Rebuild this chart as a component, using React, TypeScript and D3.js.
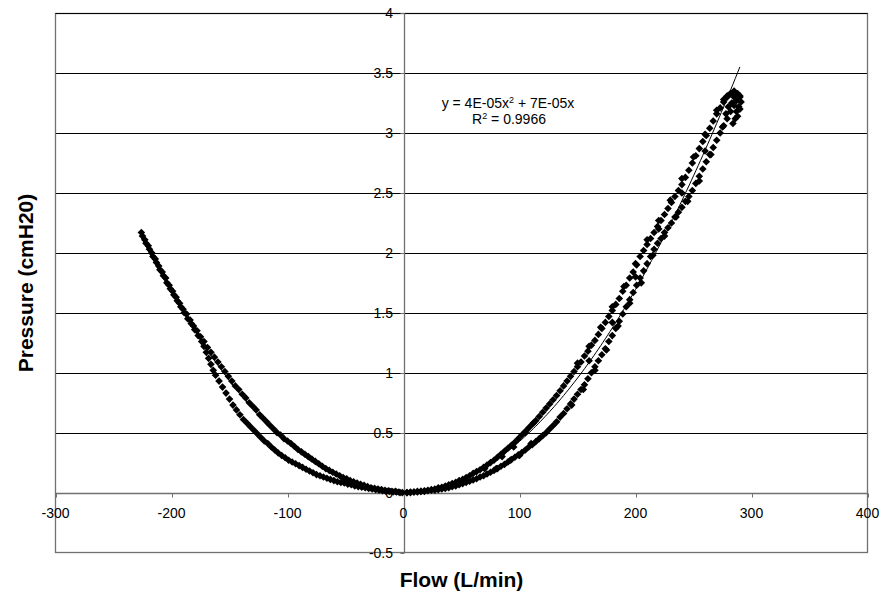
import { useRef, useEffect } from 'react';
import * as d3 from 'd3';

// axis ticks
const xTicks = [-300, -200, -100, 0, 100, 200, 300, 400];
const yTicks = [-0.5, 0, 0.5, 1, 1.5, 2, 2.5, 3, 3.5, 4];

// trendline shown on the chart (poly order 2)
const trendA = 4.2e-5;
const trendB = 7e-5;
const trendRange = [-226, 290];
const eqText = ['y = 4E-05x', ' + 7E-05x'];
const r2Text = ' = 0.9966';

// negative flow, outer branch [flow, pressure]
const leftOuter = [
    [-226, 2.17], [-223, 2.11], [-220, 2.06], [-217, 2.0], [-214, 1.95], [-211, 1.89], [-208, 1.84],
    [-205, 1.79], [-202, 1.73], [-199, 1.68], [-196, 1.63], [-193, 1.58], [-190, 1.53], [-187, 1.49],
    [-184, 1.44], [-181, 1.39], [-178, 1.35], [-175, 1.3], [-172, 1.26], [-169, 1.21], [-166, 1.17],
    [-163, 1.13], [-160, 1.09], [-157, 1.05], [-154, 1.01], [-151, 0.97], [-148, 0.93], [-145, 0.89],
    [-142, 0.86], [-139, 0.82], [-136, 0.79], [-133, 0.75], [-130, 0.72], [-127, 0.69], [-124, 0.65],
    [-121, 0.62], [-118, 0.59], [-115, 0.56], [-112, 0.53], [-109, 0.5], [-106, 0.48], [-103, 0.45],
    [-100, 0.43], [-97, 0.41], [-94, 0.385], [-91, 0.36], [-88, 0.34], [-85, 0.32], [-82, 0.3],
    [-79, 0.28], [-76, 0.26], [-73, 0.24], [-70, 0.22], [-67, 0.2], [-64, 0.185], [-61, 0.17],
    [-58, 0.155], [-55, 0.14], [-52, 0.125], [-49, 0.115], [-46, 0.1], [-43, 0.09], [-40, 0.08],
    [-37, 0.07], [-34, 0.06], [-31, 0.05], [-28, 0.04], [-25, 0.035], [-22, 0.03], [-19, 0.025],
    [-16, 0.02], [-13, 0.015], [-10, 0.01], [-7, 0.01], [-4, 0.005], [-1, 0.0]
];

// negative flow, inner branch
const leftInner = [
    [-225, 2.14], [-222, 2.08], [-219, 2.03], [-216, 1.97], [-213, 1.92], [-210, 1.86], [-207, 1.81],
    [-204, 1.75], [-201, 1.7], [-198, 1.65], [-195, 1.6], [-192, 1.55], [-189, 1.5], [-186, 1.45],
    [-183, 1.41], [-180, 1.36], [-177, 1.31], [-174, 1.26], [-172, 1.22], [-170, 1.17], [-168, 1.12],
    [-166, 1.07], [-164, 1.02], [-162, 0.98], [-159, 0.93], [-156, 0.88], [-153, 0.83], [-150, 0.78],
    [-147, 0.73], [-144, 0.69], [-141, 0.65], [-138, 0.61], [-135, 0.58], [-132, 0.55], [-129, 0.52],
    [-126, 0.49], [-123, 0.46], [-120, 0.43], [-117, 0.41], [-114, 0.38], [-111, 0.355], [-108, 0.33],
    [-105, 0.31], [-102, 0.29], [-99, 0.27], [-96, 0.255], [-93, 0.24], [-90, 0.225], [-87, 0.21],
    [-84, 0.195], [-81, 0.18], [-78, 0.165], [-75, 0.15], [-72, 0.14], [-69, 0.13], [-66, 0.12],
    [-63, 0.11], [-60, 0.1], [-57, 0.09], [-54, 0.085], [-51, 0.08], [-48, 0.07], [-45, 0.065],
    [-42, 0.055], [-39, 0.05], [-36, 0.045], [-33, 0.04], [-30, 0.035], [-27, 0.03], [-24, 0.025],
    [-21, 0.02], [-18, 0.015], [-15, 0.01], [-12, 0.01], [-9, 0.005], [-6, 0.005], [-3, 0.0]
];

// positive flow, upper branch
const rightUpper = [
    [3, 0.0], [6, 0.005], [9, 0.005], [12, 0.01], [15, 0.01], [18, 0.015], [21, 0.02], [24, 0.025],
    [27, 0.03], [30, 0.04], [33, 0.045], [36, 0.055], [39, 0.065], [42, 0.075], [45, 0.085], [48, 0.1],
    [51, 0.11], [54, 0.125], [57, 0.14], [60, 0.16], [63, 0.175], [66, 0.19], [69, 0.21], [72, 0.23],
    [75, 0.25], [78, 0.27], [81, 0.295], [84, 0.32], [87, 0.345], [90, 0.37], [93, 0.395], [96, 0.42],
    [99, 0.45], [102, 0.48], [105, 0.51], [108, 0.54], [111, 0.57], [114, 0.6], [117, 0.635], [120, 0.67],
    [123, 0.705], [126, 0.74], [129, 0.775], [132, 0.81], [135, 0.85], [138, 0.89], [141, 0.93], [144, 0.97],
    [147, 1.01], [150, 1.05], [153, 1.09], [156, 1.14], [159, 1.18], [162, 1.23], [165, 1.27], [168, 1.32],
    [171, 1.37], [174, 1.42], [177, 1.47], [180, 1.52], [183, 1.57], [186, 1.62], [189, 1.68], [192, 1.73],
    [195, 1.79], [198, 1.84], [201, 1.9], [204, 1.97], [207, 2.02], [210, 2.07], [213, 2.12], [216, 2.17],
    [219, 2.22], [222, 2.27], [225, 2.32], [228, 2.37], [231, 2.42], [234, 2.47], [237, 2.52], [240, 2.57],
    [243, 2.63], [246, 2.69], [249, 2.75], [252, 2.81], [255, 2.87], [258, 2.93], [261, 2.98], [264, 3.04],
    [267, 3.1], [270, 3.16], [273, 3.21], [276, 3.26], [279, 3.3], [282, 3.33], [285, 3.35]
];

// positive flow, lower branch
const rightLower = [
    [3, 0.0], [6, 0.0], [9, 0.005], [12, 0.005], [15, 0.01], [18, 0.01], [21, 0.015], [24, 0.02],
    [27, 0.02], [30, 0.025], [33, 0.03], [36, 0.035], [39, 0.04], [42, 0.05], [45, 0.055], [48, 0.065],
    [51, 0.075], [54, 0.085], [57, 0.095], [60, 0.105], [63, 0.115], [66, 0.13], [69, 0.14], [72, 0.155],
    [75, 0.17], [78, 0.185], [81, 0.2], [84, 0.22], [87, 0.235], [90, 0.255], [93, 0.275], [96, 0.295],
    [99, 0.315], [102, 0.335], [105, 0.355], [108, 0.38], [111, 0.4], [114, 0.425], [117, 0.45], [120, 0.475],
    [123, 0.5], [126, 0.53], [129, 0.56], [132, 0.59], [135, 0.63], [138, 0.66], [141, 0.7], [144, 0.74],
    [147, 0.78], [150, 0.82], [153, 0.86], [156, 0.9], [159, 0.95], [162, 1.0], [165, 1.05], [168, 1.1],
    [171, 1.15], [174, 1.2], [177, 1.26], [180, 1.31], [183, 1.37], [186, 1.43], [189, 1.49], [192, 1.55],
    [195, 1.61], [198, 1.67], [201, 1.73], [204, 1.79], [207, 1.85], [210, 1.91], [213, 1.97], [216, 2.03],
    [219, 2.08], [222, 2.12], [225, 2.17], [228, 2.21], [231, 2.25], [234, 2.3], [237, 2.34], [240, 2.38],
    [243, 2.43], [246, 2.47], [249, 2.52], [252, 2.58], [255, 2.64], [258, 2.7], [261, 2.76], [264, 2.82],
    [267, 2.88], [270, 2.94], [273, 3.0], [276, 3.06], [279, 3.12], [282, 3.18], [285, 3.23], [288, 3.28],
    [290, 3.31]
];

// loose points hugging the positive branches
const rightScatter = [
    [70, 0.2], [85, 0.3], [95, 0.38], [105, 0.5], [112, 0.58], [80, 0.2], [92, 0.27], [100, 0.31],
    [110, 0.41], [150, 1.08], [160, 1.22], [170, 1.38], [180, 1.55], [190, 1.72], [200, 1.91], [210, 2.11],
    [220, 2.27], [230, 2.44], [240, 2.62], [250, 2.8], [260, 2.99], [270, 3.19], [145, 0.73], [155, 0.86],
    [165, 1.02], [175, 1.19], [185, 1.39], [195, 1.58], [205, 1.75], [215, 1.98], [225, 2.14], [235, 2.3],
    [245, 2.43], [255, 2.6], [265, 2.82], [275, 3.05], [160, 1.1], [180, 1.42], [200, 1.8], [220, 2.2],
    [240, 2.5], [260, 2.85]
];

// cloud at the peak
const peakCluster = [
    [276, 3.28], [279, 3.31], [282, 3.33], [285, 3.34], [288, 3.33], [290, 3.3], [291, 3.26], [289, 3.22],
    [287, 3.18], [286, 3.12], [284, 3.08], [288, 3.14], [290, 3.2], [283, 3.25], [280, 3.22], [278, 3.16],
    [285, 3.3], [287, 3.27]
];

const W = 881;
const H = 592;
const FONT = 'Arial, "Liberation Sans", sans-serif';

const App = () => {
    const svgRef = useRef(null);

    useEffect(() => {
        const svg = d3.select(svgRef.current);
        svg.selectAll('*').remove();

        const x = d3.scaleLinear().domain([-300, 400]).range([55.5, 867.5]);
        const y = d3.scaleLinear().domain([-0.5, 4]).range([552.5, 13.2]);
        const py = (v) => Math.round(y(v)) + 0.5;

        // gridlines
        svg.append('g')
            .selectAll('line')
            .data(yTicks.filter(d => d > 0))
            .join('line')
            .attr('x1', x(-300)).attr('x2', x(400))
            .attr('y1', d => py(d)).attr('y2', d => py(d))
            .attr('stroke', '#000').attr('stroke-width', 1);

        // plot border
        svg.append('rect')
            .attr('x', x(-300)).attr('y', py(4))
            .attr('width', x(400) - x(-300))
            .attr('height', y(-0.5) - py(4))
            .attr('fill', 'none').attr('stroke', '#707070').attr('stroke-width', 1.3);
        svg.append('line')
            .attr('x1', x(-300)).attr('x2', x(400))
            .attr('y1', py(4)).attr('y2', py(4))
            .attr('stroke', '#000');

        // axes crossing at zero
        const y0 = py(0);
        const x0 = Math.round(x(0)) + 0.5;
        svg.append('line')
            .attr('x1', x(-300)).attr('x2', x(400)).attr('y1', y0).attr('y2', y0)
            .attr('stroke', '#707070').attr('stroke-width', 1.3);
        svg.append('line')
            .attr('x1', x0).attr('x2', x0).attr('y1', y(4)).attr('y2', y(-0.5))
            .attr('stroke', '#707070').attr('stroke-width', 1.3);

        svg.append('g')
            .selectAll('line')
            .data(xTicks)
            .join('line')
            .attr('x1', d => Math.round(x(d)) + 0.5).attr('x2', d => Math.round(x(d)) + 0.5)
            .attr('y1', y0).attr('y2', y0 + 4)
            .attr('stroke', '#707070');

        svg.append('g')
            .selectAll('line')
            .data(yTicks)
            .join('line')
            .attr('x1', x0 - 4).attr('x2', x0)
            .attr('y1', d => py(d)).attr('y2', d => py(d))
            .attr('stroke', '#707070');

        // tick labels
        svg.append('g')
            .selectAll('text')
            .data(xTicks)
            .join('text')
            .attr('x', d => x(d)).attr('y', 518)
            .attr('text-anchor', 'middle')
            .style('font-family', FONT).style('font-size', '14px').attr('fill', '#000')
            .text(d => d);

        svg.append('g')
            .selectAll('text')
            .data(yTicks)
            .join('text')
            .attr('x', 393).attr('y', d => y(d) + 5)
            .attr('text-anchor', 'end')
            .style('font-family', FONT).style('font-size', '14px').attr('fill', '#000')
            .text(d => d);

        // markers
        const r = 3.8;
        const diamond = `M0,${-r}L${r},0L0,${r}L${-r},0Z`;
        const pts = [...leftOuter, ...leftInner, ...rightUpper, ...rightLower, ...rightScatter, ...peakCluster];
        svg.append('g')
            .selectAll('path')
            .data(pts)
            .join('path')
            .attr('d', diamond)
            .attr('transform', d => `translate(${x(d[0])},${y(d[1])})`)
            .attr('fill', '#000');

        // trendline
        const tx = d3.range(trendRange[0], trendRange[1] + 1, 2);
        svg.append('path')
            .datum(tx)
            .attr('d', d3.line().x(d => x(d)).y(d => y(trendA * d * d + trendB * d)))
            .attr('fill', 'none')
            .attr('stroke', '#000')
            .attr('stroke-width', 1);

        // equation
        const eq = svg.append('text')
            .attr('x', 508).attr('y', 108)
            .attr('text-anchor', 'middle')
            .style('font-family', FONT).style('font-size', '14px');
        eq.append('tspan').text(eqText[0]);
        eq.append('tspan').attr('dy', -5).style('font-size', '9px').text('2');
        eq.append('tspan').attr('dy', 5).text(eqText[1]);

        const r2 = svg.append('text')
            .attr('x', 509).attr('y', 124)
            .attr('text-anchor', 'middle')
            .style('font-family', FONT).style('font-size', '14px');
        r2.append('tspan').text('R');
        r2.append('tspan').attr('dy', -5).style('font-size', '9px').text('2');
        r2.append('tspan').attr('dy', 5).text(r2Text);

        // axis titles
        svg.append('text')
            .attr('x', 461.5).attr('y', 587)
            .attr('text-anchor', 'middle')
            .style('font-family', FONT).style('font-size', '21px').style('font-weight', 'bold')
            .text('Flow (L/min)');

        svg.append('text')
            .attr('transform', `translate(33, 283) rotate(-90)`)
            .attr('text-anchor', 'middle')
            .style('font-family', FONT).style('font-size', '21px').style('font-weight', 'bold')
            .text('Pressure (cmH20)');
    }, []);

    return (
        <svg ref={svgRef} width={W} height={H}
            style={{ position: 'absolute', left: 0, top: 0, background: '#fff' }} />
    );
};

export default App;
